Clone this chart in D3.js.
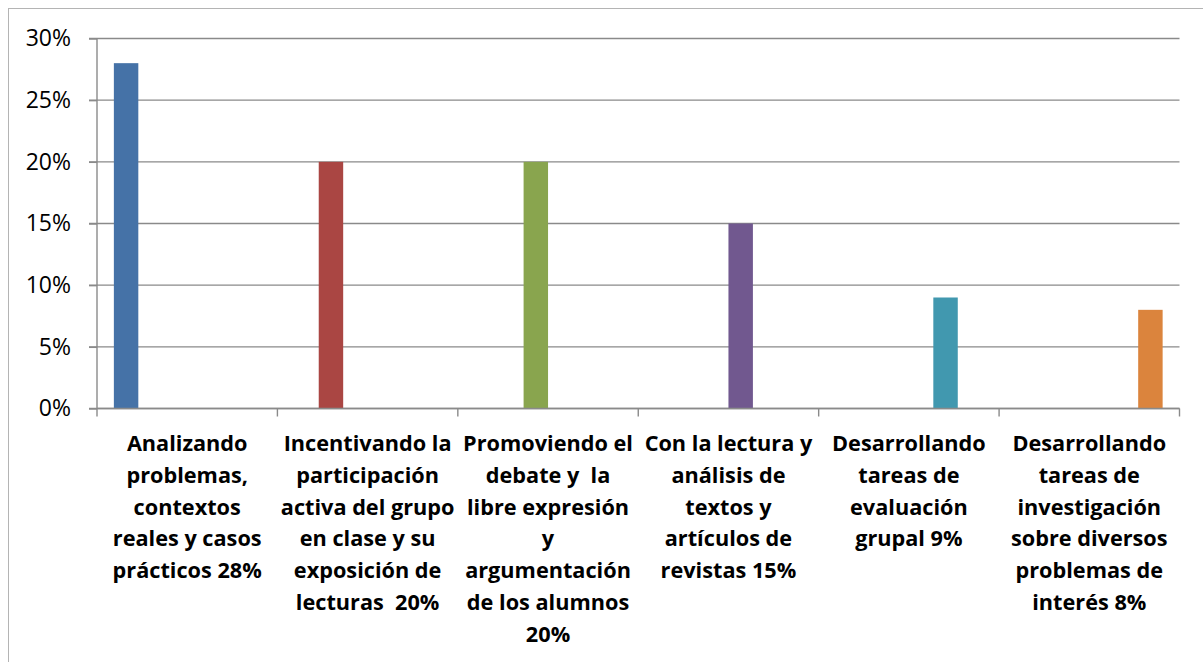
<!DOCTYPE html>
<html>
<head>
<meta charset="utf-8">
<script src="https://cdn.jsdelivr.net/npm/d3@7"></script>
<style>
  html, body { margin: 0; padding: 0; background: #fff; overflow: hidden; }
  svg { display: block; }
</style>
</head>
<body>
<svg id="chart" width="1203" height="662"></svg>
<script>
// ---- data ----
const categories = [
  ["Analizando", "problemas,", "contextos", "reales y casos", "prácticos 28%"],
  ["Incentivando la", "participación", "activa del grupo", "en clase y su", "exposición de", "lecturas  20%"],
  ["Promoviendo el", "debate y  la", "libre expresión", "y", "argumentación", "de los alumnos", "20%"],
  ["Con la lectura y", "análisis de", "textos y", "artículos de", "revistas 15%"],
  ["Desarrollando", "tareas de", "evaluación", "grupal 9%"],
  ["Desarrollando", "tareas de", "investigación", "sobre diversos", "problemas de", "interés 8%"]
];
const values = [0.28, 0.20, 0.20, 0.15, 0.09, 0.08];
const colors = ["#4572A7", "#AA4643", "#89A54E", "#71588F", "#4198AF", "#DB843D"];
const yTicks = [0, 0.05, 0.10, 0.15, 0.20, 0.25, 0.30];

// ---- layout ----
const svg = d3.select("#chart");
const pLeft = 97, pRight = 1179.5, pTop = 38.5, pBottom = 408.5;

svg.append("rect")
  .attr("x", 8.5).attr("y", 8.5)
  .attr("width", 1300).attr("height", 800)
  .attr("fill", "#fff").attr("stroke", "#b4b4b4").attr("stroke-width", 1);

const catIdx = d3.range(categories.length);
const x = d3.scaleBand().domain(catIdx).range([pLeft, pRight]).paddingInner(0).paddingOuter(0);
const xs = d3.scaleBand().domain(catIdx).range([0, x.bandwidth()]).paddingInner(0).paddingOuter(0.69);
const y = d3.scaleLinear().domain([0, 0.30]).range([pBottom, pTop]);

// gridlines
svg.append("g")
  .selectAll("line").data(yTicks).join("line")
  .attr("x1", pLeft - 8).attr("x2", pRight)
  .attr("y1", d => y(d)).attr("y2", d => y(d))
  .attr("stroke", "#8a8a8a").attr("stroke-width", 1.4);

// y axis
const yAxis = svg.append("g")
  .attr("transform", `translate(${pLeft},0)`)
  .call(d3.axisLeft(y).tickValues(yTicks).tickFormat(d3.format(".0%")).tickSize(8).tickPadding(18));
yAxis.select(".domain").attr("stroke", "#8a8a8a").attr("stroke-width", 1.4).attr("d", `M0,${pTop}V${pBottom}`);
yAxis.selectAll(".tick line").attr("stroke", "#8a8a8a").attr("stroke-width", 1.4);
yAxis.selectAll(".tick text")
  .attr("font-family", "'Open Sans', sans-serif")
  .attr("font-size", 23).attr("fill", "#000");

// bars
svg.append("g")
  .selectAll("rect").data(values).join("rect")
  .attr("x", (d, i) => x(i) + xs(i))
  .attr("width", xs.bandwidth())
  .attr("y", d => y(d))
  .attr("height", d => y(0) - y(d))
  .attr("fill", (d, i) => colors[i]);

// x axis
const xAxisG = svg.append("g").attr("transform", `translate(0,${pBottom})`);
xAxisG.append("line").attr("x1", pLeft).attr("x2", pRight).attr("y1", 0).attr("y2", 0)
  .attr("stroke", "#8a8a8a").attr("stroke-width", 1.4);
const bounds = catIdx.map(i => x(i)).concat([x(catIdx.length - 1) + x.bandwidth()]);
xAxisG.selectAll("line.tk").data(bounds).join("line").attr("class", "tk")
  .attr("x1", d => d).attr("x2", d => d).attr("y1", 0).attr("y2", 8)
  .attr("stroke", "#8a8a8a").attr("stroke-width", 1.4);

// category labels
const lab = svg.append("g")
  .attr("font-family", "'Open Sans', sans-serif")
  .attr("font-weight", "bold").attr("font-size", 21.7).attr("fill", "#000")
  .attr("text-anchor", "middle");
categories.forEach((lines, i) => {
  const t = lab.append("text").attr("x", x(i) + x.bandwidth() / 2).attr("y", 451);
  lines.forEach((ln, k) => {
    t.append("tspan").attr("x", x(i) + x.bandwidth() / 2).attr("y", 451 + k * 31.8)
      .attr("xml:space", "preserve").style("white-space", "pre").text(ln);
  });
});
</script>
</body>
</html>
